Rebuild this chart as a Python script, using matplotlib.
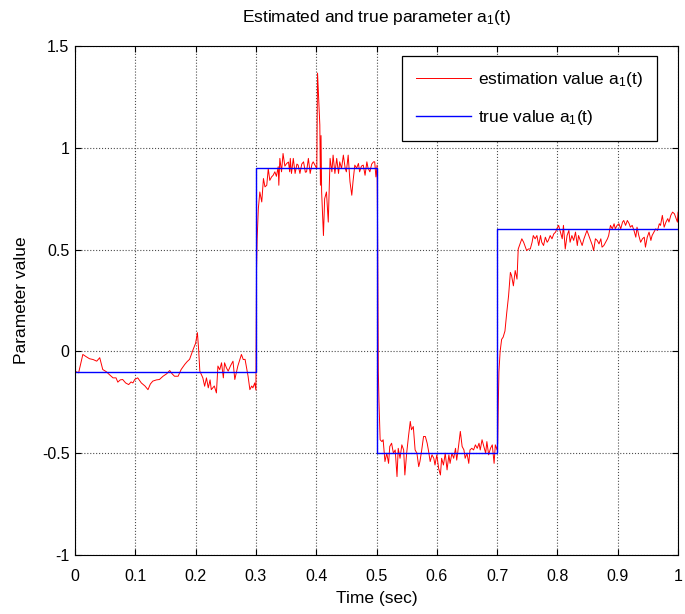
import numpy as np
import matplotlib.pyplot as plt

plt.rcParams['font.family'] = ['Liberation Sans', 'DejaVu Sans']
plt.rcParams['mathtext.fontset'] = 'custom'
plt.rcParams['mathtext.rm'] = 'Liberation Sans'
plt.rcParams['mathtext.it'] = 'Liberation Sans:italic'

# true parameter (piecewise constant)
true_t = [0.0, 0.3, 0.3, 0.5, 0.5, 0.7, 0.7, 1.0]
true_a = [-0.1, -0.1, 0.9, 0.9, -0.5, -0.5, 0.6, 0.6]

# estimated parameter
est_t = [0.000, 0.002, 0.006, 0.013, 0.018, 0.024, 0.030, 0.036, 0.041, 0.046,
         0.052, 0.057, 0.063, 0.068, 0.071, 0.075, 0.079, 0.084, 0.089, 0.093,
         0.096, 0.099, 0.104, 0.110, 0.116, 0.121, 0.125, 0.129, 0.135, 0.140,
         0.146, 0.152, 0.157, 0.161, 0.165, 0.171, 0.176, 0.182, 0.186, 0.190,
         0.196, 0.200, 0.203, 0.205, 0.207, 0.212, 0.215, 0.218, 0.221, 0.224,
         0.226, 0.231, 0.2345, 0.237, 0.240, 0.243, 0.246, 0.248, 0.251, 0.254,
         0.258, 0.262, 0.265, 0.270, 0.276, 0.279, 0.282, 0.287, 0.290, 0.293,
         0.295, 0.298, 0.300,
         0.301, 0.302, 0.304, 0.3065, 0.3097, 0.3125, 0.315, 0.318, 0.3205, 0.323,
         0.326, 0.3286, 0.3314, 0.334, 0.337, 0.338, 0.3397, 0.3425, 0.345, 0.348,
         0.351, 0.354, 0.356, 0.357, 0.359, 0.362, 0.365, 0.368, 0.370, 0.373,
         0.376, 0.379, 0.382, 0.384, 0.387, 0.390, 0.393, 0.395, 0.398, 0.401,
         0.4022, 0.4045, 0.406, 0.407, 0.408, 0.409, 0.412, 0.414, 0.417, 0.420,
         0.423, 0.426, 0.428, 0.431, 0.434, 0.437, 0.439, 0.442, 0.445, 0.448,
         0.450, 0.453, 0.456, 0.459, 0.461, 0.464, 0.467, 0.470, 0.472, 0.475,
         0.478, 0.481, 0.484, 0.486, 0.489, 0.492, 0.495, 0.497, 0.499, 0.501,
         0.502, 0.503, 0.504, 0.506, 0.509, 0.511, 0.514, 0.517, 0.520, 0.522,
         0.525, 0.528, 0.531, 0.534, 0.536, 0.539, 0.542, 0.545, 0.547, 0.550,
         0.553, 0.556, 0.558, 0.561, 0.564, 0.567, 0.570, 0.572, 0.575, 0.578,
         0.581, 0.584, 0.586, 0.589, 0.592, 0.595, 0.597, 0.600, 0.603, 0.606,
         0.608, 0.611, 0.614, 0.617, 0.620, 0.622, 0.625, 0.628, 0.631, 0.633,
         0.636, 0.639, 0.642, 0.645, 0.647, 0.650, 0.653, 0.655, 0.658, 0.661,
         0.664, 0.667, 0.670, 0.672, 0.675, 0.678, 0.681, 0.683, 0.686, 0.689,
         0.692, 0.695, 0.697, 0.700,
         0.701, 0.702, 0.703, 0.705, 0.7075, 0.710, 0.713, 0.716, 0.719, 0.722,
         0.724, 0.727, 0.730, 0.733, 0.735, 0.738, 0.741, 0.744, 0.747, 0.749,
         0.752, 0.755, 0.758, 0.760, 0.763, 0.766, 0.769, 0.772, 0.774, 0.777,
         0.780, 0.783, 0.785, 0.788, 0.791, 0.794, 0.797, 0.799, 0.802, 0.805,
         0.808, 0.810, 0.813, 0.816, 0.819, 0.821, 0.824, 0.827, 0.830, 0.833,
         0.835, 0.838, 0.841, 0.844, 0.846, 0.849, 0.852, 0.855, 0.858, 0.860,
         0.863, 0.866, 0.869, 0.872, 0.874, 0.877, 0.880, 0.883, 0.885, 0.888,
         0.891, 0.894, 0.896, 0.899, 0.902, 0.905, 0.908, 0.910, 0.913, 0.916,
         0.919, 0.921, 0.924, 0.927, 0.930, 0.932, 0.935, 0.938, 0.941, 0.944,
         0.946, 0.949, 0.952, 0.955, 0.957, 0.960, 0.963, 0.966, 0.969, 0.971,
         0.974, 0.977, 0.980, 0.983, 0.985, 0.988, 0.991, 0.994, 0.996, 0.999,
         1.000]
est_a = [-0.10, -0.10, -0.105, -0.015, -0.025, -0.036, -0.040, -0.048, -0.031, -0.089,
         -0.100, -0.114, -0.130, -0.130, -0.151, -0.140, -0.138, -0.155, -0.163, -0.150,
         -0.155, -0.138, -0.130, -0.155, -0.170, -0.188, -0.160, -0.146, -0.140, -0.138,
         -0.122, -0.110, -0.094, -0.110, -0.122, -0.122, -0.089, -0.064, -0.050, -0.039,
         0.010, 0.040, 0.092, 0.010, -0.097, -0.130, -0.171, -0.130, -0.179, -0.140,
         -0.188, -0.170, -0.204, -0.072, -0.090, -0.056, -0.130, -0.056, -0.080, -0.097,
         -0.070, -0.048, -0.138, -0.072, -0.015, -0.040, -0.039, -0.122, -0.188, -0.170,
         -0.179, -0.155, -0.190,
         0.40, 0.55, 0.70, 0.783, 0.734, 0.849, 0.808, 0.816, 0.898, 0.840,
         0.857, 0.865, 0.882, 0.860, 0.907, 0.816, 0.948, 0.882, 0.972, 0.910,
         0.923, 0.930, 0.882, 0.948, 0.874, 0.948, 0.874, 0.920, 0.915, 0.874,
         0.920, 0.931, 0.880, 0.882, 0.948, 0.874, 0.920, 0.931, 0.915, 0.898,
         1.367, 1.211, 1.112, 0.816, 1.060, 0.783, 0.569, 0.750, 0.783, 0.635,
         0.948, 0.882, 0.964, 0.874, 0.948, 0.874, 0.931, 0.898, 0.964, 0.900,
         0.882, 0.964, 0.833, 0.767, 0.833, 0.915, 0.900, 0.923, 0.882, 0.910,
         0.915, 0.865, 0.931, 0.900, 0.882, 0.920, 0.931, 0.931, 0.857, 0.915,
         0.50, -0.10, -0.237, -0.434, -0.443, -0.434, -0.541, -0.500, -0.550, -0.467,
         -0.451, -0.500, -0.484, -0.615, -0.476, -0.525, -0.459, -0.484, -0.607, -0.500,
         -0.418, -0.344, -0.385, -0.369, -0.484, -0.500, -0.566, -0.541, -0.484, -0.418,
         -0.418, -0.451, -0.484, -0.541, -0.508, -0.525, -0.558, -0.508, -0.574, -0.607,
         -0.525, -0.558, -0.500, -0.582, -0.508, -0.550, -0.500, -0.525, -0.476, -0.534,
         -0.467, -0.393, -0.467, -0.484, -0.525, -0.500, -0.550, -0.484, -0.476, -0.484,
         -0.459, -0.476, -0.451, -0.484, -0.434, -0.467, -0.500, -0.443, -0.508, -0.476,
         -0.459, -0.550, -0.459, -0.484,
         -0.45, -0.25, -0.10, 0.0, 0.059, 0.070, 0.100, 0.191, 0.273, 0.388,
         0.372, 0.322, 0.397, 0.355, 0.503, 0.528, 0.553, 0.536, 0.512, 0.495,
         0.503, 0.503, 0.536, 0.569, 0.553, 0.569, 0.520, 0.569, 0.536, 0.520,
         0.561, 0.536, 0.545, 0.569, 0.553, 0.577, 0.586, 0.602, 0.619, 0.586,
         0.553, 0.619, 0.503, 0.569, 0.594, 0.536, 0.569, 0.545, 0.586, 0.520,
         0.569, 0.545, 0.520, 0.553, 0.569, 0.594, 0.569, 0.545, 0.520, 0.495,
         0.553, 0.545, 0.528, 0.553, 0.512, 0.520, 0.536, 0.553, 0.569, 0.619,
         0.602, 0.627, 0.602, 0.619, 0.627, 0.602, 0.635, 0.643, 0.619, 0.643,
         0.627, 0.610, 0.619, 0.594, 0.561, 0.610, 0.569, 0.536, 0.553, 0.561,
         0.512, 0.561, 0.586, 0.545, 0.569, 0.586, 0.602, 0.594, 0.627, 0.619,
         0.668, 0.610, 0.635, 0.652, 0.635, 0.668, 0.684, 0.676, 0.660, 0.635,
         0.684]

fig = plt.figure(figsize=(6.85, 6.14), dpi=100)
ax = fig.add_axes([0.1095, 0.0961, 0.8803, 0.8290])

ax.plot(est_t, est_a, color='red', lw=0.7, label='estimation value a$_1$(t)')
ax.plot(true_t, true_a, color='blue', lw=1.0, label='true value a$_1$(t)')

ax.set_xlim(0, 1)
ax.set_ylim(-1, 1.5)
ax.set_xticks(np.arange(0, 1.01, 0.1))
ax.set_xticklabels(['0', '0.1', '0.2', '0.3', '0.4', '0.5', '0.6', '0.7', '0.8', '0.9', '1'])
ax.set_yticks([-1, -0.5, 0, 0.5, 1, 1.5])
ax.set_yticklabels(['-1', '-0.5', '0', '0.5', '1', '1.5'])
ax.tick_params(direction='in', top=True, right=True, length=4, labelsize=11.5, width=0.8)
ax.tick_params(axis='x', pad=10)
ax.tick_params(axis='y', pad=4)
ax.grid(True, color='0.3', linestyle=':', linewidth=0.8)
for s in ax.spines.values():
    s.set_linewidth(0.8)

ax.set_title('Estimated and true parameter a$_1$(t)', fontsize=12.5, pad=17)
ax.set_xlabel('Time (sec)', fontsize=12.5, labelpad=5)
ax.set_ylabel('Parameter value', fontsize=12.5, labelpad=9)

leg = ax.legend(loc='upper right', bbox_to_anchor=(0.965, 0.98), borderaxespad=0,
                fancybox=False, framealpha=1, edgecolor='black', fontsize=12.5,
                handlelength=3.2, handletextpad=0.4, borderpad=0.8, labelspacing=1.1)
leg.get_frame().set_linewidth(0.9)

plt.savefig('out.png', dpi=100)
